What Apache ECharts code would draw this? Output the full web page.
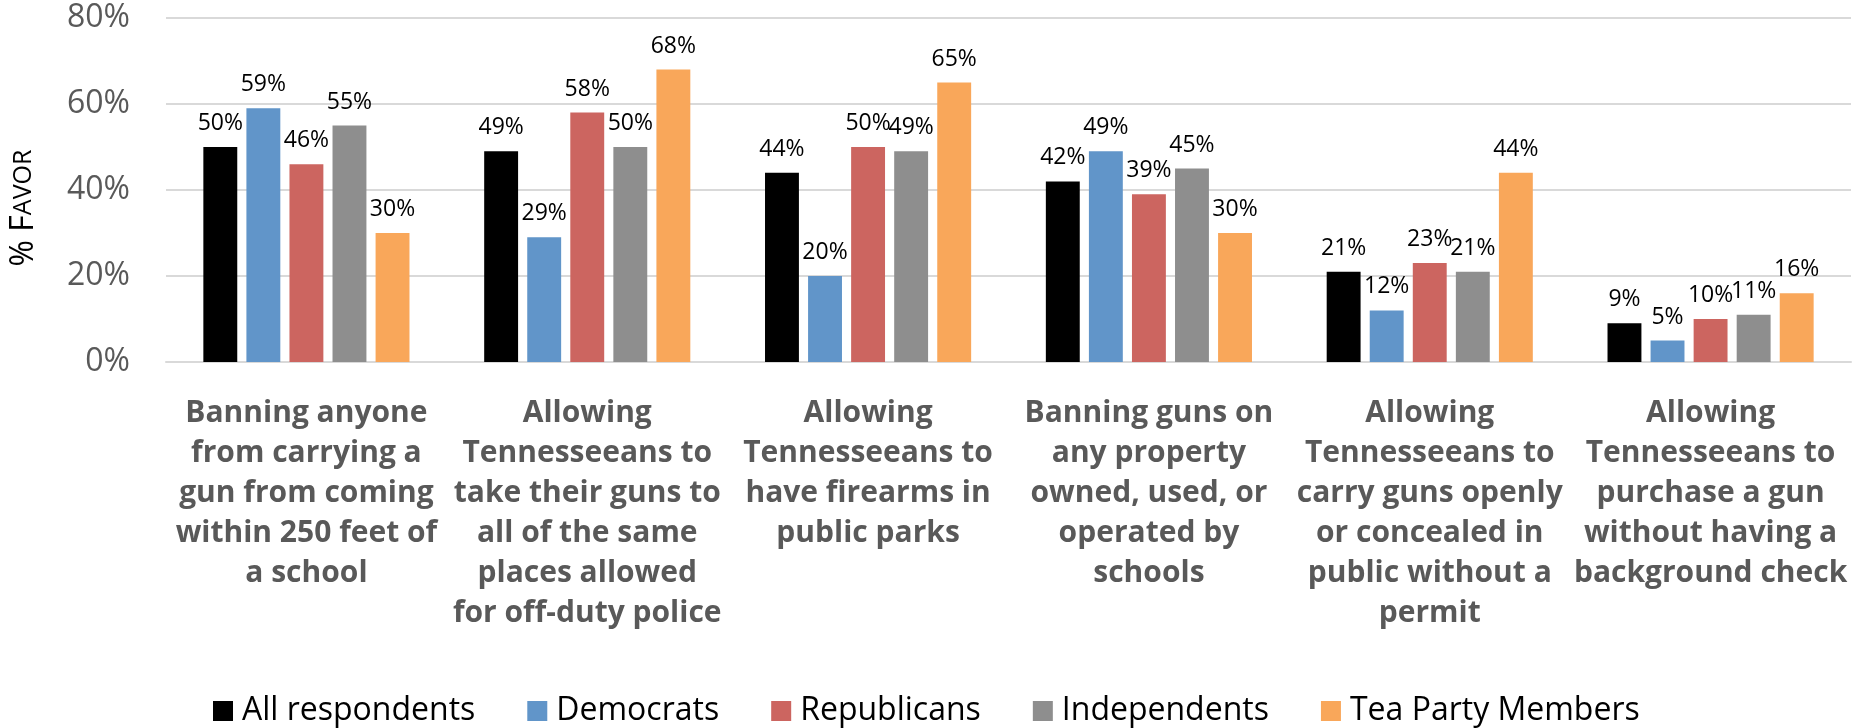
<!DOCTYPE html>
<html><head><meta charset="utf-8">
<script src="https://cdn.jsdelivr.net/npm/echarts@6/dist/echarts.min.js"></script>
<style>html,body{margin:0;padding:0;background:#fff}#c{width:1862px;height:728px}</style>
</head><body><div id="c"></div>
<script>
const categories = [
  "Banning anyone\nfrom carrying a\ngun from coming\nwithin 250 feet of\na school",
  "Allowing\nTennesseeans to\ntake their guns to\nall of the same\nplaces allowed\nfor off-duty police",
  "Allowing\nTennesseeans to\nhave firearms in\npublic parks",
  "Banning guns on\nany property\nowned, used, or\noperated by\nschools",
  "Allowing\nTennesseeans to\ncarry guns openly\nor concealed in\npublic without a\npermit",
  "Allowing\nTennesseeans to\npurchase a gun\nwithout having a\nbackground check"
];
const seriesNames = ["All respondents", "Democrats", "Republicans", "Independents", "Tea Party Members"];
const allRespondents = [50, 49, 44, 42, 21, 9];
const democrats = [59, 29, 20, 49, 12, 5];
const republicans = [46, 58, 50, 39, 23, 10];
const independents = [55, 50, 49, 45, 21, 11];
const teaParty = [30, 68, 65, 30, 44, 16];
const colors = ["#000000", "#6195C9", "#CC6560", "#8E8E8E", "#F9A75A"];
const values = [allRespondents, democrats, republicans, independents, teaParty];

const FONT = "Open Sans";
const chart = echarts.init(document.getElementById('c'));
chart.setOption({
  animation: false,
  grid: {left: 166, right: 11, top: 18, bottom: 366},
  graphic: [{
    type: 'text', x: 24, y: 208, rotation: Math.PI / 2,
    style: {
      text: '{a|% F}{b|AVOR}', align: 'center', verticalAlign: 'middle',
      rich: {a: {fontFamily: FONT, fontSize: 32, fill: '#000'}, b: {fontFamily: FONT, fontSize: 25, fill: '#000'}}
    }
  }],
  legend: {
    left: 208, top: 690, itemWidth: 20, itemHeight: 20, itemGap: 52,
    icon: 'rect',
    textStyle: {fontFamily: FONT, fontSize: 32, color: '#000', padding: [0, 0, 0, 4]},
    data: seriesNames
  },
  xAxis: {
    type: 'category', data: categories,
    axisLine: {show: true, lineStyle: {color: '#D9D9D9', width: 2}},
    axisTick: {show: false},
    axisLabel: {interval: 0, margin: 31, fontFamily: FONT, fontWeight: 'bold', fontSize: 30, lineHeight: 40, color: '#595959'}
  },
  yAxis: {
    type: 'value', min: 0, max: 80, interval: 20,
    axisLine: {show: false}, axisTick: {show: false},
    axisLabel: {formatter: '{value}%', margin: 36, fontFamily: FONT, fontSize: 32, color: '#595959'},
    splitLine: {lineStyle: {color: '#D9D9D9', width: 2}}
  },
  series: seriesNames.map((n, i) => ({
    name: n, type: 'bar', data: values[i],
    barGap: '27%', barCategoryGap: '26.6%',
    itemStyle: {color: colors[i]},
    label: {show: true, position: 'top', distance: 12, formatter: '{c}%', fontFamily: FONT, fontSize: 23, color: '#000'}
  }))
});
</script></body></html>
